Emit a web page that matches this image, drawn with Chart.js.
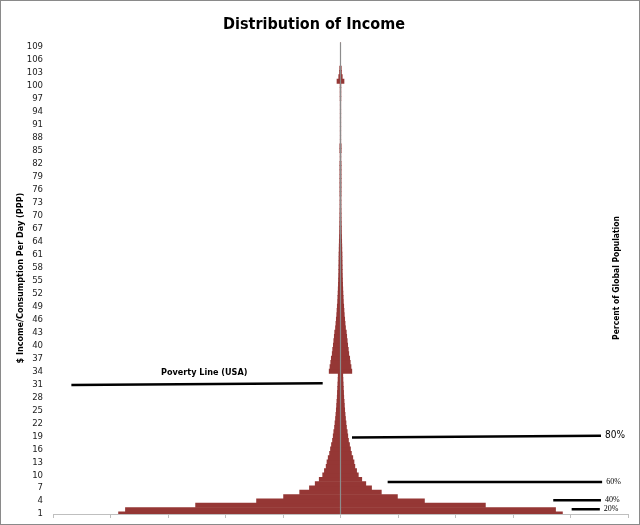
<!DOCTYPE html>
<html>
<head>
<meta charset="utf-8">
<title>Distribution of Income</title>
<script src="https://cdn.jsdelivr.net/npm/chart.js@4.4.1/dist/chart.umd.min.js"></script>
<style>
  html, body { margin: 0; padding: 0; background: #fff; }
  #wrap { width: 640px; height: 525px; position: relative; }
</style>
</head>
<body>
<div id="wrap"><canvas id="incomeChart"></canvas></div>
<script>
// $ per day (PPP), one bar per dollar level
const incomeLevels = [
    1, 2, 3, 4, 5, 6, 7, 8, 9, 10, 11, 12, 13, 14, 15, 16, 17, 18, 19, 20,
    21, 22, 23, 24, 25, 26, 27, 28, 29, 30, 31, 32, 33, 34, 35, 36, 37, 38, 39, 40,
    41, 42, 43, 44, 45, 46, 47, 48, 49, 50, 51, 52, 53, 54, 55, 56, 57, 58, 59, 60,
    61, 62, 63, 64, 65, 66, 67, 68, 69, 70, 71, 72, 73, 74, 75, 76, 77, 78, 79, 80,
    81, 82, 83, 84, 85, 86, 87, 88, 89, 90, 91, 92, 93, 94, 95, 96, 97, 98, 99, 100,
    101, 102, 103, 104, 105, 106, 107, 108, 109, 110
];

// half width of each bar (drawn both sides of zero)
const populationShare = [
    3.86, 3.74, 2.52, 1.46, 0.99, 0.71, 0.54, 0.44, 0.37, 0.31,
    0.28, 0.25, 0.235, 0.214, 0.19, 0.174, 0.157, 0.139, 0.127, 0.117,
    0.104, 0.096, 0.087, 0.080, 0.073, 0.068, 0.063, 0.057, 0.054, 0.050,
    0.047, 0.043, 0.040, 0.197, 0.183, 0.170, 0.160, 0.144, 0.136, 0.125,
    0.117, 0.108, 0.101, 0.087, 0.080, 0.073, 0.066, 0.061, 0.056, 0.050,
    0.047, 0.043, 0.040, 0.037, 0.035, 0.033, 0.031, 0.030, 0.029, 0.028,
    0.027, 0.024, 0.023, 0.021, 0.019, 0.017, 0.016, 0.014, 0.013, 0.012,
    0.011, 0.010, 0.010, 0.009, 0.011, 0.011, 0.011, 0.011, 0.011, 0.011,
    0.011, 0.011, 0.007, 0.007, 0.012, 0.012, 0.005, 0.005, 0.005, 0.005,
    0.005, 0.005, 0.005, 0.005, 0.005, 0.005, 0.007, 0.007, 0.007, 0.007,
    0.061, 0.031, 0.017, 0.014, 0, 0, 0, 0, 0, 0
];

const yTickLabels = [
    1, 4, 7, 10, 13, 16, 19, 22, 25, 28, 31, 34, 37, 40, 43, 46, 49, 52, 55,
    58, 61, 64, 67, 70, 73, 76, 79, 82, 85, 88, 91, 94, 97, 100, 103, 106, 109
];

// marker lines drawn over the chart
const markerNames = ["Poverty Line (USA)", "80%", "60%", "40%", "20%"];
const markerStart = [-4.68, 0.20, 0.82, 3.70, 4.02];
const markerEnd = [-0.31, 4.53, 4.55, 4.53, 4.51];
const markerStartLevel = [30.8, 18.7, 8.4, 4.2, 2.1];
const markerEndLevel = [31.2, 19.1, 8.4, 4.2, 2.1];

const narrow = "'DejaVu Sans Condensed', 'Liberation Sans Narrow', sans-serif";
const barColor = "#953735";

const barData = incomeLevels.map((level, i) => ({
    y: level,
    x: [-populationShare[i], populationShare[i]]
}));

const markerDatasets = markerNames.map((name, i) => ({
    type: "line",
    label: name,
    data: [
        { x: markerStart[i], y: markerStartLevel[i] },
        { x: markerEnd[i], y: markerEndLevel[i] }
    ],
    borderColor: "#000",
    borderWidth: 2.5,
    pointRadius: 0,
    order: 1
}));

const centerLine = {
    type: "line",
    label: "axis",
    data: [{ x: 0, y: 1 }, { x: 0, y: 110 }],
    borderColor: "#8c8c8c",
    borderWidth: 1.2,
    pointRadius: 0,
    order: 0
};

const overlayText = {
    id: "overlayText",
    afterDatasetsDraw(chart) {
        const { ctx, scales: { x, y } } = chart;
        ctx.save();
        ctx.fillStyle = "#000";
        ctx.textBaseline = "middle";

        // poverty line caption sits above its line
        ctx.font = "bold 9px " + narrow;
        ctx.textAlign = "center";
        ctx.fillText(markerNames[0], x.getPixelForValue(-2.37), y.getPixelForValue(33.6));

        ctx.textAlign = "left";
        for (let i = 1; i < markerNames.length; i++) {
            ctx.font = i === 1 ? "10px " + narrow : "8px 'Liberation Serif', serif";
            ctx.fillText(markerNames[i], x.getPixelForValue(markerEnd[i]) + 4, y.getPixelForValue(markerEndLevel[i]));
        }

        // right hand axis caption
        ctx.translate(617, 278);
        ctx.rotate(-Math.PI / 2);
        ctx.textAlign = "center";
        ctx.font = "bold 8.5px " + narrow;
        ctx.fillText("Percent of Global Population", 0, 0);
        ctx.restore();
    },
    afterDraw(chart) {
        const { ctx, width, height } = chart;
        ctx.save();
        ctx.strokeStyle = "#8a8a8a";
        ctx.lineWidth = 1;
        ctx.strokeRect(0.5, 0.5, width - 1, height - 1);
        ctx.restore();
    }
};

new Chart(document.getElementById("incomeChart"), {
    type: "bar",
    data: {
        datasets: [
            {
                label: "Population",
                data: barData,
                backgroundColor: barColor,
                borderWidth: 0,
                barPercentage: 1,
                categoryPercentage: 1,
                order: 5
            },
            ...markerDatasets,
            centerLine
        ]
    },
    options: {
        indexAxis: "y",
        responsive: true,
        maintainAspectRatio: false,
        animation: false,
        layout: { padding: { left: 0, right: 12, top: 0, bottom: 0 } },
        plugins: {
            legend: { display: false },
            tooltip: { enabled: false },
            title: {
                display: true,
                text: "Distribution of Income",
                color: "#000",
                font: { family: narrow, size: 16, weight: "bold" },
                padding: { top: 15, bottom: 8 }
            }
        },
        scales: {
            x: {
                type: "linear",
                min: -5,
                max: 5,
                ticks: { display: false, stepSize: 1 },
                grid: { drawOnChartArea: false, drawTicks: true, tickLength: 4, color: "#bfbfbf" },
                border: { color: "#bfbfbf" },
                afterFit(scale) { scale.height = 11; }
            },
            y: {
                type: "linear",
                min: 1,
                max: 110,
                offset: false,
                afterBuildTicks(scale) {
                    scale.ticks = yTickLabels.map((v) => ({ value: v }));
                },
                ticks: {
                    autoSkip: false,
                    padding: 10,
                    color: "#222",
                    font: { family: narrow, size: 9.5 }
                },
                grid: { display: false, drawTicks: false, offset: false },
                border: { display: false },
                title: {
                    display: true,
                    text: "$ Income/Consumption Per Day (PPP)",
                    color: "#000",
                    font: { family: narrow, size: 9, weight: "bold" },
                    padding: { top: 15, bottom: 0 }
                },
                afterFit(scale) {
                    scale.width = 53;
                    // let the end labels hang over the plot edges
                    scale.paddingTop = 0;
                    scale.paddingBottom = 0;
                }
            }
        }
    },
    plugins: [overlayText]
});
</script>
</body>
</html>
